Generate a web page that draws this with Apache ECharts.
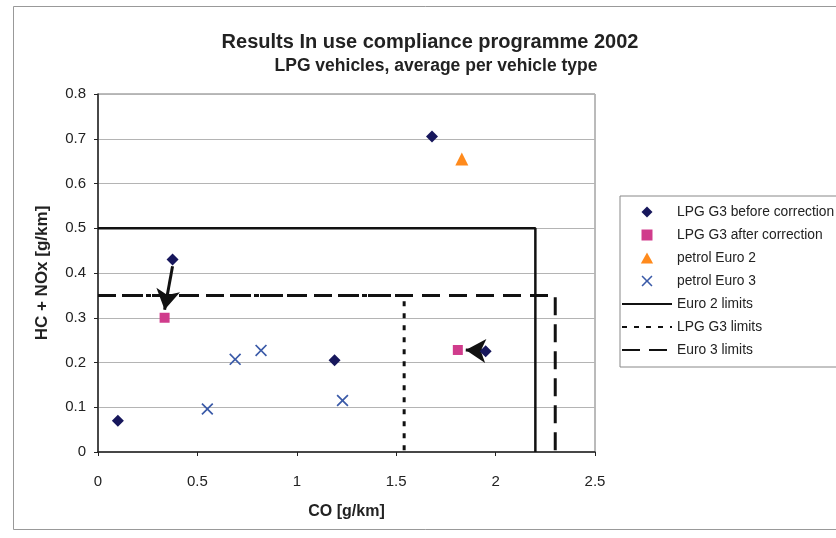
<!DOCTYPE html>
<html><head><meta charset="utf-8">
<script src="https://cdn.jsdelivr.net/npm/echarts@6/dist/echarts.min.js"></script>
<style>html,body{margin:0;padding:0;background:#fff}#c{width:836px;height:538px}</style>
</head><body><div id="c"></div>
<script>
var xTicks = [0, 0.5, 1, 1.5, 2, 2.5];
var yTicks = [0, 0.1, 0.2, 0.3, 0.4, 0.5, 0.6, 0.7, 0.8];
var lpgBefore = [[0.1, 0.07], [0.375, 0.43], [1.19, 0.205], [1.68, 0.705], [1.95, 0.225]];
var lpgAfter = [[0.335, 0.3], [1.81, 0.228]];
var petrolEuro2 = [[1.83, 0.655]];
var petrolEuro3 = [[0.55, 0.096], [0.69, 0.207], [0.82, 0.227], [1.23, 0.115]];
var euro2Limits = [[0, 0.5], [2.2, 0.5], [2.2, 0]];
var lpgG3Limits = [[0, 0.35], [1.54, 0.35], [1.54, 0]];
var euro3Limits = [[0, 0.35], [2.3, 0.35], [2.3, 0]];
var arrows = [[[0.375, 0.415], [0.335, 0.318]], [[1.935, 0.226], [1.85, 0.228]]];

var F = '"Liberation Sans", Arial, sans-serif';
var chart = echarts.init(document.getElementById('c'), null, {renderer: 'canvas'});
var xPath = 'path://M0,1L1,0L5,4L9,0L10,1L6,5L10,9L9,10L5,6L1,10L0,9L4,5Z';
var diamondPath = 'path://M5,0L10,5L5,10L0,5Z';
var rectPath = 'path://M1,1H9V9H1Z';
var triPath = 'path://M5,0L10,9L0,9Z';
var cBefore = '#17175c', cAfter = '#d03c8c', cE2 = '#ff8a1c', cE3 = '#3a5aa8';
chart.setOption({
  animation: false,
  backgroundColor: '#fff',
  title: [
    {text: 'Results In use compliance programme 2002', left: 425, top: 27, textAlign: 'center',
     textStyle: {fontFamily: F, fontSize: 20, fontWeight: 'bold', color: '#222'}},
    {text: 'LPG vehicles, average per vehicle type', left: 431, top: 52, textAlign: 'center',
     textStyle: {fontFamily: F, fontSize: 17.5, fontWeight: 'bold', color: '#222'}}
  ],
  graphic: [
    {type: 'rect', shape: {x: 13.5, y: 6.5, width: 840, height: 523}, style: {fill: 'none', stroke: '#999', lineWidth: 1}, z: -1}
  ],
  grid: {left: 98, top: 94, width: 497, height: 358, show: true, borderColor: '#777', borderWidth: 1, backgroundColor: 'transparent'},
  legend: {
    left: 620, top: 196, orient: 'vertical',
    itemWidth: 50, itemHeight: 11, itemGap: 9,
    padding: [9, 12, 10, 1],
    borderColor: '#888', borderWidth: 1,
    symbolKeepAspect: true,
    textStyle: {fontFamily: F, fontSize: 13.8, color: '#222'},
    data: [
      {name: 'LPG G3 before correction', icon: diamondPath},
      {name: 'LPG G3 after correction', icon: rectPath},
      {name: 'petrol Euro 2', icon: triPath},
      {name: 'petrol Euro 3', icon: xPath},
      {name: 'Euro 2 limits', itemStyle: {opacity: 0}},
      {name: 'LPG G3 limits', itemStyle: {opacity: 0}},
      {name: 'Euro 3 limits', itemStyle: {opacity: 0}}
    ]
  },
  xAxis: {
    type: 'value', min: xTicks[0], max: xTicks[xTicks.length - 1], interval: xTicks[1] - xTicks[0],
    name: 'CO [g/km]', nameLocation: 'middle', nameGap: 52,
    nameTextStyle: {fontFamily: F, fontSize: 16, fontWeight: 'bold', color: '#222'},
    axisLine: {lineStyle: {color: '#222', width: 1.5}},
    axisTick: {show: true, inside: false, length: 4, lineStyle: {color: '#222'}},
    axisLabel: {fontFamily: F, fontSize: 15, color: '#222', margin: 22, formatter: function (v) { return String(v); }},
    splitLine: {show: false}
  },
  yAxis: {
    type: 'value', min: yTicks[0], max: yTicks[yTicks.length - 1], interval: yTicks[1] - yTicks[0],
    name: 'HC + NOx [g/km]', nameLocation: 'middle', nameGap: 47, nameRotate: 90,
    nameTextStyle: {fontFamily: F, fontSize: 17, fontWeight: 'bold', color: '#222'},
    axisLine: {lineStyle: {color: '#222', width: 1.5}},
    axisTick: {show: true, inside: false, length: 4, lineStyle: {color: '#222'}},
    axisLabel: {fontFamily: F, fontSize: 15, color: '#222', margin: 12, formatter: function (v) { return String(Math.round(v * 10) / 10); }},
    splitLine: {show: true, lineStyle: {color: '#b4b4b4', width: 1}}
  },
  series: [
    {name: 'LPG G3 before correction', type: 'scatter', data: lpgBefore, symbol: 'diamond', symbolSize: 12,
     itemStyle: {color: cBefore, opacity: 1}, z: 5},
    {name: 'LPG G3 after correction', type: 'scatter', data: lpgAfter, symbol: 'rect', symbolSize: 10,
     itemStyle: {color: cAfter, opacity: 1}, z: 5},
    {name: 'petrol Euro 2', type: 'scatter', data: petrolEuro2, symbol: 'triangle', symbolSize: 13,
     itemStyle: {color: cE2, opacity: 1}, z: 5},
    {name: 'petrol Euro 3', type: 'scatter', data: petrolEuro3, symbol: xPath, symbolSize: 12,
     itemStyle: {color: cE3, opacity: 1}, z: 5},
    {name: 'Euro 2 limits', type: 'line', data: euro2Limits, symbol: 'none', z: 3,
     lineStyle: {color: '#111', width: 2.5, type: 'solid'}, itemStyle: {color: '#111'}},
    {name: 'LPG G3 limits', type: 'line', data: lpgG3Limits, symbol: 'none', z: 3,
     lineStyle: {color: '#111', width: 3, type: [5, 7]}, itemStyle: {color: '#111'}},
    {name: 'Euro 3 limits', type: 'line', data: euro3Limits, symbol: 'none', z: 3,
     lineStyle: {color: '#111', width: 3, type: [18, 9]}, itemStyle: {color: '#111'}},
    {name: 'arrows', type: 'scatter', data: [], z: 6,
     markLine: {
       silent: true, animation: false, symbol: ['none', 'arrow'], symbolSize: [18, 20],
       label: {show: false},
       lineStyle: {color: '#111', width: 3, type: 'solid'},
       data: arrows.map(function (a) { return [{coord: a[0]}, {coord: a[1]}]; })
     }}
  ]
});
</script>
</body></html>
